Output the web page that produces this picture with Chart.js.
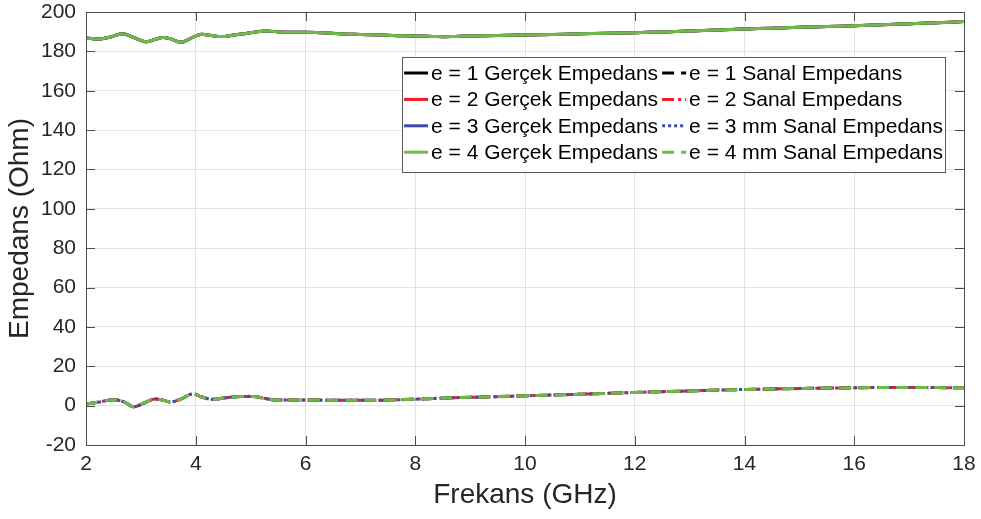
<!DOCTYPE html>
<html>
<head>
<meta charset="utf-8">
<script src="https://cdn.jsdelivr.net/npm/chart.js@4/dist/chart.umd.min.js"></script>
<style>
  html, body { margin: 0; padding: 0; background: #ffffff; }
  #wrap { width: 981px; height: 519px; position: relative; }
</style>
</head>
<body>
<div id="wrap"><canvas id="c" width="981" height="519"></canvas></div>
<script>
// Frequency sweep (GHz) and impedance readings (Ohm)
const freqReal = [2.0, 2.25, 2.45, 2.66, 2.85, 3.08, 3.25, 3.40, 3.55, 3.73, 3.90, 4.08, 4.25, 4.46, 4.70, 4.88, 5.10, 5.28, 5.50, 5.75, 6.0, 6.4, 6.7, 7.0, 7.4, 7.8, 8.05, 8.4, 8.65, 9.0, 9.5, 10.0, 10.5, 11.0, 11.5, 12.0, 12.5, 13.0, 13.5, 14.0, 14.5, 15.0, 15.5, 16.0, 16.5, 17.0, 17.5, 18.0];
const realImpedance = [186.8, 186.3, 187.3, 189.0, 187.3, 184.9, 186.0, 187.1, 186.3, 184.6, 186.5, 188.6, 188.2, 187.5, 188.3, 189.0, 189.9, 190.4, 189.9, 189.7, 189.7, 189.3, 188.8, 188.6, 188.3, 187.9, 187.8, 187.5, 187.5, 187.8, 188.0, 188.3, 188.6, 188.9, 189.2, 189.5, 189.9, 190.4, 190.9, 191.4, 191.8, 192.2, 192.6, 193.0, 193.5, 194.0, 194.5, 195.2];
const freqImag = [2.0, 2.25, 2.5, 2.7, 2.87, 3.05, 3.24, 3.40, 3.55, 3.75, 3.94, 4.1, 4.3, 4.55, 4.82, 5.06, 5.25, 5.45, 5.97, 6.7, 7.4, 8.0, 8.7, 9.4, 10.0, 11.0, 12.0, 12.8, 13.4, 14.0, 15.0, 16.0, 17.0, 18.0];
const imagImpedance = [0.8, 1.9, 3.0, 1.8, -0.6, 1.2, 3.3, 2.8, 1.9, 3.6, 6.0, 4.5, 3.2, 4.0, 4.6, 4.6, 3.7, 2.9, 2.9, 2.7, 2.8, 3.3, 4.0, 4.5, 5.0, 5.8, 6.7, 7.3, 7.8, 8.2, 8.7, 9.1, 9.2, 9.1];

// Series labels, one row per thickness
const realLabels = ['e = 1 Gerçek Empedans', 'e = 2 Gerçek Empedans', 'e = 3 Gerçek Empedans', 'e = 4 Gerçek Empedans'];
const imagLabels = ['e = 1 Sanal Empedans', 'e = 2 Sanal Empedans', 'e = 3 mm Sanal Empedans', 'e = 4 mm Sanal Empedans'];
const seriesColors = ['#000000', '#ee1c25', '#3a4cb0', '#6dbb45'];
const imagDashes = [[12, 7], [12, 4, 3, 4], [3, 3], [12, 7]];

const xTickStep = 2;
const yTickStep = 20;
const xRange = [2, 18];
const yRange = [-20, 200];

const FONT = "'Liberation Sans', Arial, Helvetica, sans-serif";
const AXIS_COLOR = '#4d4d4d';
const TEXT_COLOR = '#262626';

function pts(xs, ys) { return xs.map((x, i) => ({ x: x, y: ys[i] })); }

const datasets = [];
for (let i = 0; i < 4; i++) {
  datasets.push({
    label: realLabels[i],
    data: pts(freqReal, realImpedance),
    borderColor: seriesColors[i],
    borderWidth: 3,
    pointRadius: 0,
    tension: 0.4,
    fill: false,
    order: 10 - i,
    legendRow: i, legendCol: 0
  });
  datasets.push({
    label: imagLabels[i],
    data: pts(freqImag, imagImpedance),
    borderColor: seriesColors[i],
    borderWidth: 3,
    borderDash: imagDashes[i],
    pointRadius: 0,
    tension: 0.4,
    fill: false,
    order: 10 - i,
    legendRow: i, legendCol: 1
  });
}

// Box outline, inward tick marks and the two-column legend
const framePlugin = {
  id: 'frame',
  afterDatasetsDraw(chart) {
    const { ctx, chartArea: a, scales } = chart;
    const xs = scales.x, ys = scales.y;
    const tl = 9;
    ctx.save();
    ctx.strokeStyle = AXIS_COLOR;
    ctx.lineWidth = 1;
    ctx.beginPath();
    xs.ticks.forEach(t => {
      const px = Math.round(xs.getPixelForValue(t.value)) + 0.5;
      ctx.moveTo(px, a.bottom); ctx.lineTo(px, a.bottom - tl);
      ctx.moveTo(px, a.top); ctx.lineTo(px, a.top + tl);
    });
    ys.ticks.forEach(t => {
      const py = Math.round(ys.getPixelForValue(t.value)) + 0.5;
      ctx.moveTo(a.left, py); ctx.lineTo(a.left + tl, py);
      ctx.moveTo(a.right, py); ctx.lineTo(a.right - tl, py);
    });
    ctx.stroke();
    ctx.strokeRect(Math.round(a.left) + 0.5, Math.round(a.top) + 0.5, Math.round(a.right - a.left), Math.round(a.bottom - a.top));

    // legend
    const fs = 21;
    ctx.font = fs + 'px ' + FONT;
    const metas = chart.data.datasets;
    const col0 = metas.filter(d => d.legendCol === 0);
    const col1 = metas.filter(d => d.legendCol === 1);
    const w0 = Math.max(...col0.map(d => ctx.measureText(d.label).width));
    const w1 = Math.max(...col1.map(d => ctx.measureText(d.label).width));
    const sample = 24, gapS = 3, gapC = 4;
    const right = a.right - 19;
    const top = a.top + 45;
    const rowH = 26.4;
    const boxW = 2 + sample + gapS + w0 + gapC + sample + gapS + w1 + 2;
    const left = right - boxW;
    const boxH = rowH * 4 + 9;
    ctx.fillStyle = '#ffffff';
    ctx.fillRect(left, top, boxW, boxH);
    ctx.strokeStyle = '#5a5a5a';
    ctx.strokeRect(Math.round(left) + 0.5, Math.round(top) + 0.5, Math.round(boxW), Math.round(boxH));
    const colX = [left + 2, left + 2 + sample + gapS + w0 + gapC];
    metas.forEach(d => {
      const cy = top + 16 + d.legendRow * rowH;
      const x0 = colX[d.legendCol];
      ctx.save();
      ctx.strokeStyle = d.borderColor;
      ctx.lineWidth = 3;
      ctx.setLineDash(d.borderDash || []);
      ctx.beginPath();
      ctx.moveTo(x0, cy); ctx.lineTo(x0 + sample, cy);
      ctx.stroke();
      ctx.restore();
      ctx.fillStyle = '#000000';
      ctx.textBaseline = 'middle';
      ctx.textAlign = 'left';
      ctx.fillText(d.label, x0 + sample + gapS, cy + 1);
    });
    ctx.restore();
  }
};

new Chart(document.getElementById('c'), {
  type: 'line',
  data: { datasets: datasets },
  options: {
    responsive: false,
    animation: false,
    events: [],
    layout: { padding: { left: 0, right: 17, top: 12, bottom: 0 } },
    plugins: { legend: { display: false }, tooltip: { enabled: false } },
    scales: {
      x: {
        type: 'linear',
        min: xRange[0], max: xRange[1],
        afterFit(s) { s.height = 74; s.paddingLeft = 0; s.paddingRight = 0; },
        ticks: { stepSize: xTickStep, color: TEXT_COLOR, font: { family: FONT, size: 21 }, padding: 7, maxRotation: 0 },
        grid: { color: '#e3e3e3', drawTicks: false },
        border: { display: false },
        title: { display: true, text: 'Frekans (GHz)', color: TEXT_COLOR, font: { family: FONT, size: 28 }, padding: { top: 0, bottom: 7 } }
      },
      y: {
        type: 'linear',
        min: yRange[0], max: yRange[1],
        afterFit(s) { s.width = 86; s.paddingTop = 0; s.paddingBottom = 0; },
        ticks: { stepSize: yTickStep, color: TEXT_COLOR, font: { family: FONT, size: 21 }, padding: 10 },
        grid: { color: '#e3e3e3', drawTicks: false },
        border: { display: false },
        title: { display: true, text: 'Empedans (Ohm)', color: TEXT_COLOR, font: { family: FONT, size: 28 }, padding: { top: 3, bottom: 0 } }
      }
    }
  },
  plugins: [framePlugin]
});
</script>
</body>
</html>
